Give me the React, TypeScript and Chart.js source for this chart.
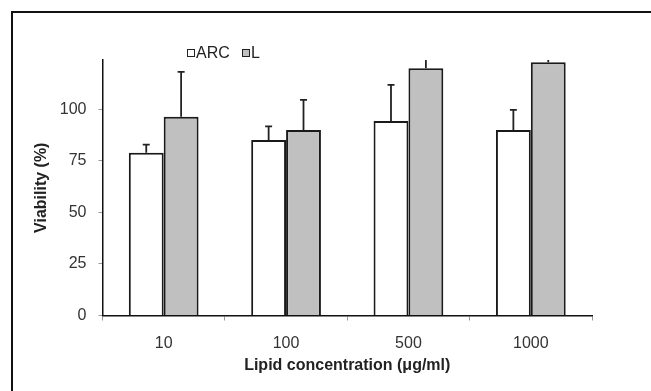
import React, { useEffect, useRef } from "react";
import { Chart, registerables } from "chart.js";

Chart.register(...registerables);

const categories = ["10", "100", "500", "1000"];
const arcValues = [79.0, 85.2, 94.4, 90.0];
const arcErrors = [3.9, 6.6, 17.5, 9.8];
const lValues = [96.5, 90.0, 120.0, 122.9];
const lErrors = [21.7, 14.6, 6, 3];
const yTicks = [0, 25, 50, 75, 100];
const seriesNames = ["ARC", "L"];

const FONT = "'Liberation Sans', Arial, sans-serif";

const errorBarPlugin = {
  id: "errorBars",
  afterDatasetsDraw(chart: any) {
    const { ctx, chartArea, scales } = chart;
    const y = scales.y;
    ctx.save();
    ctx.beginPath();
    ctx.rect(chartArea.left - 10, chartArea.top, chartArea.right - chartArea.left + 20, chartArea.bottom - chartArea.top);
    ctx.clip();
    chart.data.datasets.forEach((ds: any, di: number) => {
      const meta = chart.getDatasetMeta(di);
      meta.data.forEach((el: any, i: number) => {
        const v = ds.data[i];
        const e = ds.errors[i];
        const yTop = el.y;
        const yErr = y.getPixelForValue(v + e);
        ctx.strokeStyle = "#222";
        ctx.lineWidth = 1.8;
        ctx.beginPath();
        ctx.moveTo(el.x, yTop);
        ctx.lineTo(el.x, yErr);
        ctx.moveTo(el.x - 3.5, yErr);
        ctx.lineTo(el.x + 3.5, yErr);
        ctx.stroke();
      });
    });
    ctx.restore();
  },
};

export default function App() {
  const ref = useRef<HTMLCanvasElement>(null);
  useEffect(() => {
    if (!ref.current) return;
    const chart = new Chart(ref.current, {
      type: "bar",
      data: {
        labels: categories,
        datasets: [
          {
            label: seriesNames[0],
            data: arcValues,
            errors: arcErrors,
            backgroundColor: "#ffffff",
            borderColor: "#1a1a1a",
            borderWidth: 2,
            categoryPercentage: 0.57,
            barPercentage: 1,
          } as any,
          {
            label: seriesNames[1],
            data: lValues,
            errors: lErrors,
            backgroundColor: "#c0c0c0",
            borderColor: "#1a1a1a",
            borderWidth: 2,
            categoryPercentage: 0.57,
            barPercentage: 1,
          } as any,
        ],
      },
      options: {
        responsive: false,
        animation: false,
        devicePixelRatio: 1,
        layout: { padding: { top: 60, right: 59, left: 26, bottom: 10 } },
        plugins: {
          legend: { display: false },
          tooltip: { enabled: false },
        },
        scales: {
          x: {
            grid: {
              offset: true,
              drawOnChartArea: false,
              drawTicks: true,
              tickLength: 5,
              color: "#999",
            },
            border: { display: true, color: "#111", width: 1.5 },
            ticks: {
              color: "#333",
              font: { family: FONT, size: 16 },
              padding: 13,
            },
            title: {
              display: true,
              text: "Lipid concentration (\u03bcg/ml)",
              color: "#222",
              font: { family: FONT, size: 16, weight: "bold" },
              padding: { bottom: 6, top: 0 },
            },
            afterFit(scale: any) {
              scale.height = 65.5;
            },
          },
          y: {
            min: 0,
            max: 124,
            grid: {
              drawOnChartArea: false,
              drawTicks: true,
              tickLength: 4,
              color: "#999",
            },
            border: { display: true, color: "#111", width: 1.5 },
            ticks: {
              stepSize: 25,
              includeBounds: false,
              color: "#333",
              font: { family: FONT, size: 16 },
              padding: 12,
            },
            afterBuildTicks(scale: any) {
              scale.ticks = yTicks.map((v) => ({ value: v }));
            },
            title: {
              display: true,
              text: "Viability (%)",
              color: "#222",
              font: { family: FONT, size: 16, weight: "bold" },
              padding: { top: 6, bottom: 0 },
            },
            afterFit(scale: any) {
              scale.width = 76.5;
            },
          },
        },
      } as any,
      plugins: [errorBarPlugin],
    });
    return () => chart.destroy();
  }, []);

  const box = (fill: string): React.CSSProperties => ({
    position: "absolute",
    width: 8,
    height: 8,
    boxSizing: "border-box",
    border: "1.5px solid #222",
    background: fill,
    top: 49,
  });
  const txt: React.CSSProperties = {
    position: "absolute",
    top: 43,
    fontFamily: FONT,
    fontSize: 16,
    lineHeight: "19px",
    color: "#222",
    whiteSpace: "nowrap",
  };

  return (
    <div
      style={{
        position: "fixed",
        left: 0,
        top: 0,
        width: 651,
        height: 391,
        overflow: "hidden",
        background: "#fff",
      }}
    >
      <canvas ref={ref} width={651} height={391} style={{ position: "absolute", left: 0, top: 0, width: 651, height: 391 }} />
      <div
        style={{
          position: "absolute",
          left: 11,
          top: 11,
          width: 800,
          height: 500,
          border: "2px solid #111",
          pointerEvents: "none",
        }}
      />
      <div style={{ ...box("#fff"), left: 187 }} />
      <div style={{ ...txt, left: 196 }}>{seriesNames[0]}</div>
      <div style={{ ...box("#c0c0c0"), left: 242 }} />
      <div style={{ ...txt, left: 251 }}>{seriesNames[1]}</div>
    </div>
  );
}
